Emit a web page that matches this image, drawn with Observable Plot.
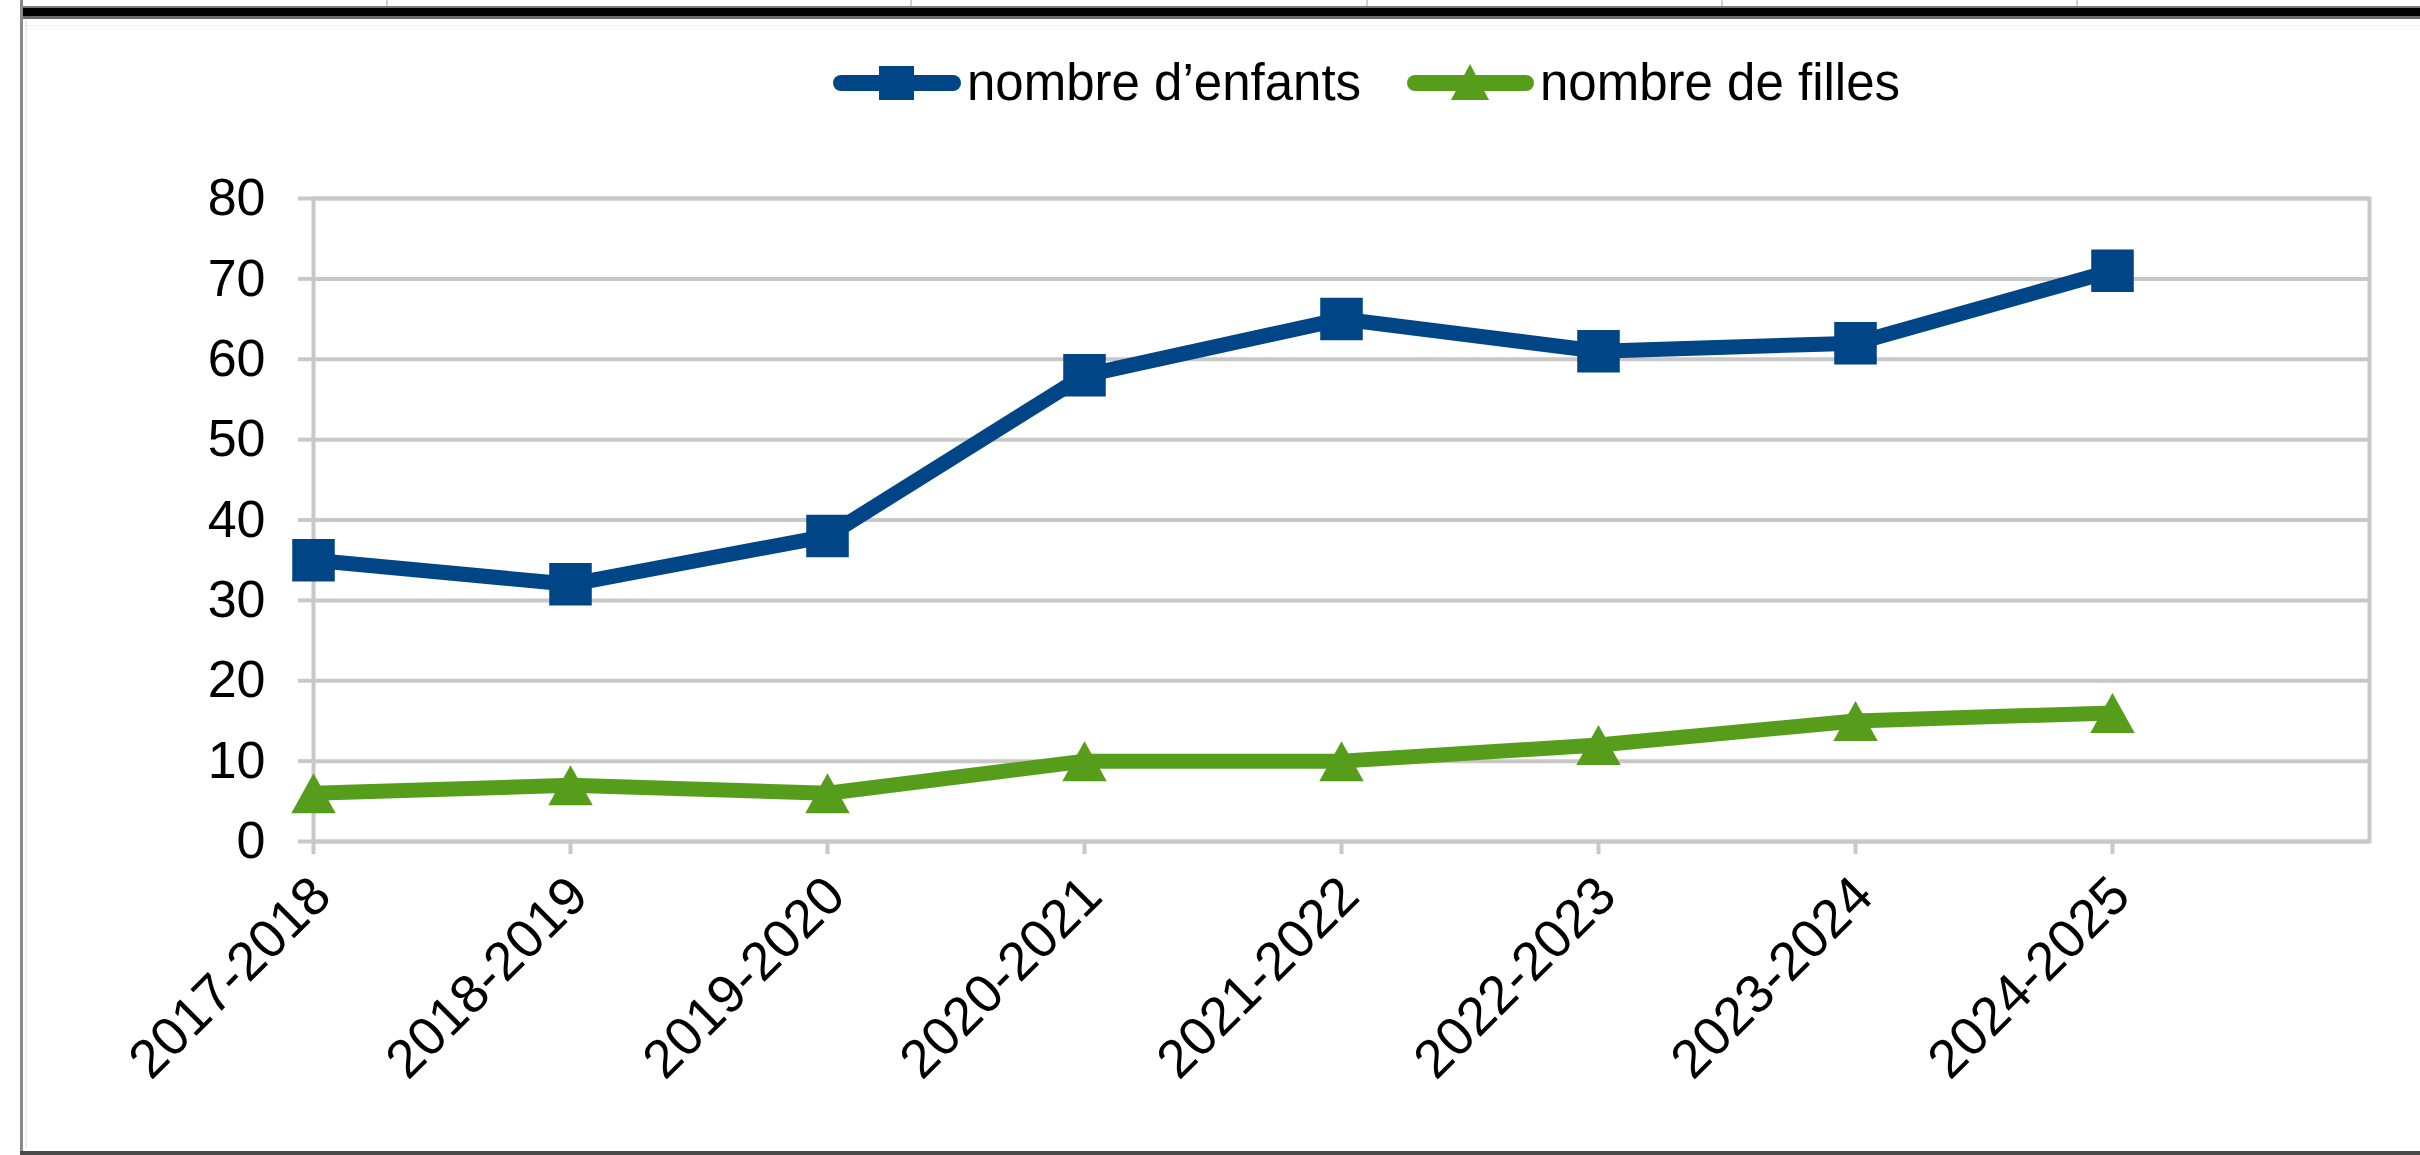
<!DOCTYPE html>
<html>
<head>
<meta charset="utf-8">
<script src="https://cdn.jsdelivr.net/npm/d3@7"></script>
<script src="https://cdn.jsdelivr.net/npm/@observablehq/plot@0.6"></script>
<style>
  html, body { margin: 0; padding: 0; background: #ffffff; }
  #wrap { position: relative; width: 2420px; height: 1155px; overflow: hidden; background: #ffffff;
          font-family: "Liberation Sans", Arial, sans-serif; }
  #legend { position: relative; width: 2420px; height: 130px; }
  .abs { position: absolute; }
  .ltext { position: absolute; font-size: 51px; line-height: 51px; color: #000; white-space: nowrap; }
  #chart svg { display: block; }
</style>
</head>
<body>
<div id="wrap">
  <div id="legend"></div>
  <div id="chart"></div>
</div>
<script>
// ---- data ----
const categories = ["2017-2018", "2018-2019", "2019-2020", "2020-2021", "2021-2022", "2022-2023", "2023-2024", "2024-2025"];
const enfants = [35, 32, 38, 58, 65, 61, 62, 71];
const filles = [6, 7, 6, 10, 10, 12, 15, 16];
const seriesNames = ["nombre d\u2019enfants", "nombre de filles"];
const seriesColors = ["#004586", "#579d1c"];
const yTicks = [0, 10, 20, 30, 40, 50, 60, 70, 80];

const rowsEnfants = categories.map((c, i) => ({cat: c, v: enfants[i]}));
const rowsFilles = categories.map((c, i) => ({cat: c, v: filles[i]}));

// triangle centred on its bounding box
const triBox = {
  draw(ctx, size) {
    const s = Math.sqrt(4 * size / Math.sqrt(3));
    const h = s * 0.9;
    ctx.moveTo(0, -h / 2);
    ctx.lineTo(s / 2, h / 2);
    ctx.lineTo(-s / 2, h / 2);
    ctx.closePath();
  }
};

// ---- legend (HTML) ----
const legend = document.getElementById("legend");
function add(html) { legend.insertAdjacentHTML("beforeend", html); }
// blue item
add(`<div class="abs" style="left:833px;top:75px;width:128px;height:16px;border-radius:8px;background:${seriesColors[0]}"></div>`);
add(`<div class="abs" style="left:879px;top:66px;width:35px;height:34px;background:${seriesColors[0]}"></div>`);
add(`<div class="ltext" style="left:967px;top:57px">${seriesNames[0]}</div>`);
// green item
add(`<div class="abs" style="left:1407px;top:75px;width:127px;height:16px;border-radius:8px;background:${seriesColors[1]}"></div>`);
add(`<div class="abs" style="left:1451px;top:64px;width:0;height:0;border-left:19px solid transparent;border-right:19px solid transparent;border-bottom:36px solid ${seriesColors[1]}"></div>`);
add(`<div class="ltext" style="left:1540px;top:57px">${seriesNames[1]}</div>`);

// ---- chart ----
const gridColor = "#c8c8c8";
const chart = Plot.plot({
  width: 2420,
  height: 1025,
  marginTop: 68,
  marginBottom: 314,
  marginLeft: 313,
  marginRight: 51,
  style: {fontFamily: "\"Liberation Sans\", Arial, sans-serif", background: "transparent", color: "#000"},
  x: {type: "point", domain: categories, padding: 0, insetRight: 257, label: null},
  y: {domain: [0, 80], label: null},
  marks: [
    Plot.gridY(yTicks, {stroke: gridColor, strokeOpacity: 1, strokeWidth: 4}),
    Plot.frame({stroke: gridColor, strokeWidth: 4}),
    Plot.axisY(yTicks, {tickSize: 15, tickPadding: 33, fontSize: 52, stroke: gridColor, strokeWidth: 4, fill: "#000", label: null}),
    // tick marks below the category axis
    Plot.axisX(categories, {tickSize: 13, tickFormat: () => "", stroke: gridColor, strokeWidth: 4, label: null}),
    // rotated category labels
    Plot.axisX(categories, {tickSize: 0, tickPadding: 45, tickRotate: -45, fontSize: 54, fill: "#000", dx: 8, label: null}),
    Plot.line(rowsFilles, {x: "cat", y: "v", stroke: seriesColors[1], strokeWidth: 15, strokeLinejoin: "round"}),
    Plot.dot(rowsFilles, {x: "cat", y: "v", symbol: triBox, r: 16.5, fill: seriesColors[1], stroke: "none"}),
    Plot.line(rowsEnfants, {x: "cat", y: "v", stroke: seriesColors[0], strokeWidth: 15, strokeLinejoin: "round"}),
    Plot.dot(rowsEnfants, {x: "cat", y: "v", symbol: "square", r: 24, fill: seriesColors[0], stroke: "none"})
  ]
});
document.getElementById("chart").appendChild(chart);

// ---- frame decorations (spreadsheet border) ----
const wrap = document.getElementById("wrap");
function deco(style) { wrap.insertAdjacentHTML("beforeend", `<div class="abs" style="${style}"></div>`); }
[386, 910, 1366, 1721, 2076].forEach(x => deco(`left:${x}px;top:0;width:2px;height:7px;background:#d2d2d2`));
deco("left:20px;top:6px;width:2400px;height:2px;background:#7a7a7a");
deco("left:20px;top:8px;width:2400px;height:8px;background:#000");
deco("left:20px;top:16px;width:2400px;height:3px;background:#6a6a6a");
deco("left:20px;top:25px;width:2400px;height:1px;background:#f0f0f0");
deco("left:20px;top:0;width:3px;height:1155px;background:#8a8a8a");
deco("left:25px;top:19px;width:2px;height:1130px;background:#eeeeee");
deco("left:20px;top:1151px;width:2400px;height:4px;background:#4a4a4a");
</script>
</body>
</html>
